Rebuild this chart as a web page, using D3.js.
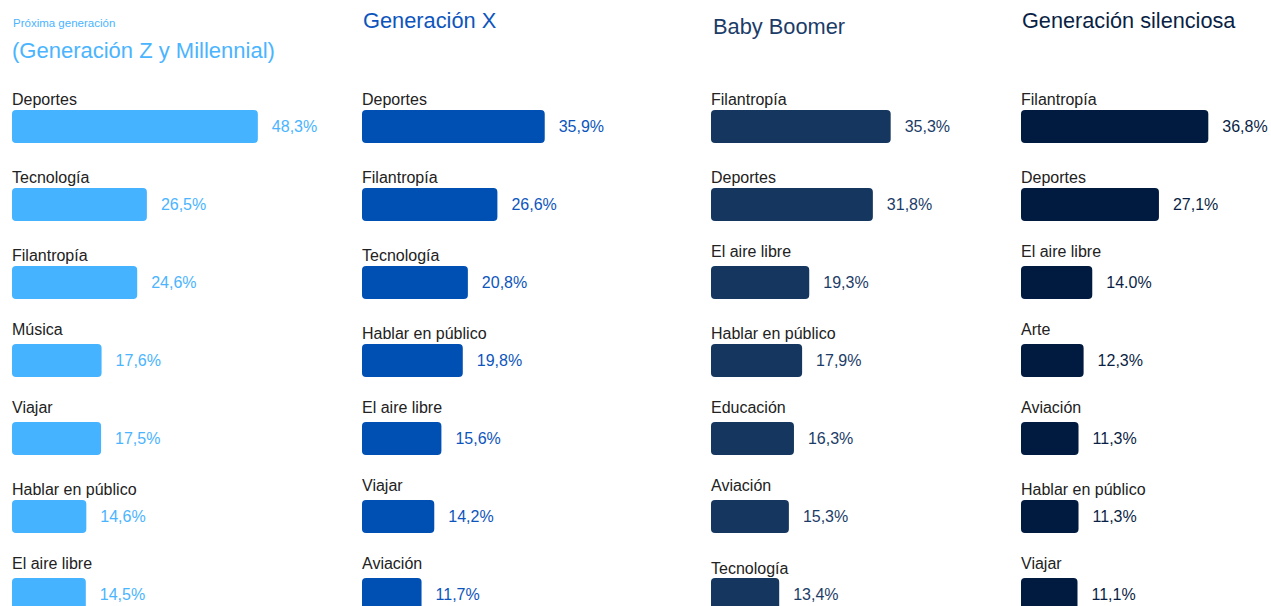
<!DOCTYPE html>
<html lang="es">

<head>
    <meta charset="UTF-8">
    <title>Intereses por generación</title>
    <script src="https://cdn.jsdelivr.net/npm/d3@7"></script>
    <style>
        body {
            margin: 0;
            background: #fff;
        }

        svg {
            display: block;
            font-family: "Liberation Sans", Arial, sans-serif;
        }
    </style>
</head>

<body>
    <svg width="1271" height="606"></svg>
    <script>
        // datos por generación
        var zCategories = ['Deportes', 'Tecnología', 'Filantropía', 'Música', 'Viajar', 'Hablar en público', 'El aire libre'];
        var zValues = [48.3, 26.5, 24.6, 17.6, 17.5, 14.6, 14.5];
        var zLabels = ['48,3%', '26,5%', '24,6%', '17,6%', '17,5%', '14,6%', '14,5%'];

        var xCategories = ['Deportes', 'Filantropía', 'Tecnología', 'Hablar en público', 'El aire libre', 'Viajar', 'Aviación'];
        var xValues = [35.9, 26.6, 20.8, 19.8, 15.6, 14.2, 11.7];
        var xLabels = ['35,9%', '26,6%', '20,8%', '19,8%', '15,6%', '14,2%', '11,7%'];

        var boomerCategories = ['Filantropía', 'Deportes', 'El aire libre', 'Hablar en público', 'Educación', 'Aviación', 'Tecnología'];
        var boomerValues = [35.3, 31.8, 19.3, 17.9, 16.3, 15.3, 13.4];
        var boomerLabels = ['35,3%', '31,8%', '19,3%', '17,9%', '16,3%', '15,3%', '13,4%'];

        var silentCategories = ['Filantropía', 'Deportes', 'El aire libre', 'Arte', 'Aviación', 'Hablar en público', 'Viajar'];
        var silentValues = [36.8, 27.1, 14.0, 12.3, 11.3, 11.3, 11.1];
        var silentLabels = ['36,8%', '27,1%', '14.0%', '12,3%', '11,3%', '11,3%', '11,1%'];

        var svg = d3.select('svg');

        var x = d3.scaleLinear().domain([0, 50]).range([0, 254.5]);
        var y = d3.scaleBand().domain(d3.range(7)).range([110, 611]).paddingInner(45 / 78).paddingOuter(0);

        // nudge: los textos de categoría no están todos a la misma distancia de su barra
        var groups = [{
            left: 12,
            bar: '#45b3ff',
            text: '#4ab4ff',
            titles: [
                { text: 'Próxima generación', y: 27, size: 11.5, dx: 1 },
                { text: '(Generación Z y Millennial)', y: 58, size: 22, dx: 0 }
            ],
            nudge: [0, 0, 0, -4, -4, 0, -4],
            categories: zCategories, values: zValues, labels: zLabels
        }, {
            left: 362,
            bar: '#0050b4',
            text: '#0d55bd',
            titles: [{ text: 'Generación X', y: 28, size: 21.8, dx: 1 }],
            nudge: [0, 0, 0, 0, -4, -4, -4],
            categories: xCategories, values: xValues, labels: xLabels
        }, {
            left: 711,
            bar: '#15365f',
            text: '#1c3c68',
            titles: [{ text: 'Baby Boomer', y: 34, size: 21.8, dx: 2 }],
            nudge: [0, 0, -4, 0, -4, -4, 1],
            categories: boomerCategories, values: boomerValues, labels: boomerLabels
        }, {
            left: 1021,
            bar: '#001a40',
            text: '#0a1f45',
            titles: [{ text: 'Generación silenciosa', y: 28, size: 21.7, dx: 1 }],
            nudge: [0, 0, -4, -4, -4, 0, -4],
            categories: silentCategories, values: silentValues, labels: silentLabels
        }];

        groups.forEach(function (g) {
            var col = svg.append('g').attr('transform', 'translate(' + g.left + ',0)');

            col.selectAll('text.title')
                .data(g.titles)
                .enter().append('text')
                .attr('class', 'title')
                .attr('x', function (d) { return d.dx; })
                .attr('y', function (d) { return d.y; })
                .style('font-size', function (d) { return d.size + 'px'; })
                .style('fill', g.text)
                .text(function (d) { return d.text; });

            var rows = g.values.map(function (v, i) {
                return { value: v, name: g.categories[i], label: g.labels[i], i: i };
            });

            var row = col.selectAll('g.row')
                .data(rows)
                .enter().append('g')
                .attr('class', 'row');

            row.append('text')
                .attr('x', 0)
                .attr('y', function (d) { return y(d.i) - 5.5 + g.nudge[d.i]; })
                .style('font-size', '16px')
                .style('fill', '#222')
                .text(function (d) { return d.name; });

            row.append('rect')
                .attr('x', 0)
                .attr('y', function (d) { return y(d.i); })
                .attr('width', function (d) { return x(d.value); })
                .attr('height', y.bandwidth())
                .attr('rx', 4)
                .style('fill', g.bar);

            row.append('text')
                .attr('x', function (d) { return x(d.value) + 14; })
                .attr('y', function (d) { return y(d.i) + y.bandwidth() / 2; })
                .attr('dy', '0.35em')
                .style('font-size', '16px')
                .style('fill', g.text)
                .text(function (d) { return d.label; });
        });
    </script>
</body>

</html>
